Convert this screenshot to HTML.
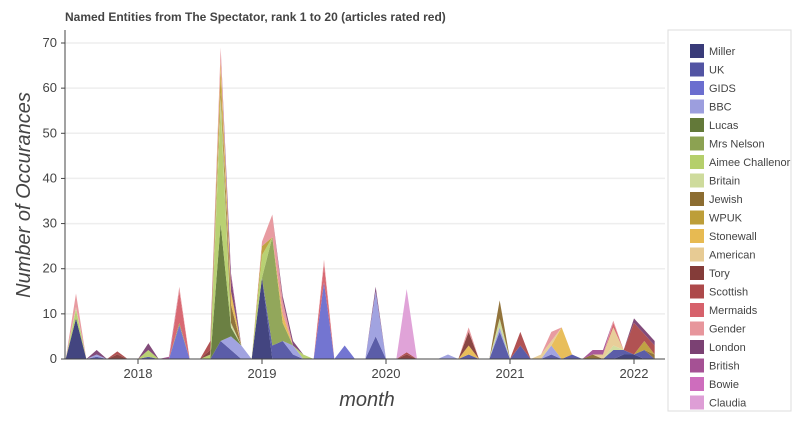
<!DOCTYPE html>
<html><head><meta charset="utf-8"><style>
body{margin:0;background:#fff;font-family:"Liberation Sans",sans-serif;}
svg text{font-family:"Liberation Sans",sans-serif;}
</style></head><body>
<svg id="c" width="797" height="418" xmlns="http://www.w3.org/2000/svg">
<text x="65" y="21" font-size="12" font-weight="bold" fill="#444">Named Entities from The Spectator, rank 1 to 20 (articles rated red)</text>
<g id="grid"></g><g id="areas"></g><g id="axes"></g>
<text transform="translate(30,195) rotate(-90)" text-anchor="middle" font-size="20" font-style="italic" fill="#444">Number of Occurances</text>
<text x="367" y="406" text-anchor="middle" font-size="20" font-style="italic" fill="#444">month</text>
<rect x="668" y="30" width="123" height="381" fill="#fff" stroke="#ddd"/>
<g id="legend"></g>
</svg>
<script>
const names=["Miller","UK","GIDS","BBC","Lucas","Mrs Nelson","Aimee Challenor","Britain","Jewish","WPUK","Stonewall","American","Tory","Scottish","Mermaids","Gender","London","British","Bowie","Claudia"];
const colors=["#393b79","#5254a3","#6b6ecf","#9c9ede","#637939","#8ca252","#b5cf6b","#cedb9c","#8c6d31","#bd9e39","#e7ba52","#e7cb94","#843c39","#ad494a","#d6616b","#e7969c","#7b4173","#a55194","#ce6dbd","#de9ed6"];
const startYear=2017, startMonth=5; // June 2017, monthly to March 2022
const Miller=[0,9,0,0,0,0,0,0,0,0, 0,0,0,0,0,0,0,0,0,18, 0,0,0,0,0,0,0,0,0,0, 0,0,0,0,0,0,0,0,0,0, 0,0,0,0,0,0,0,0,0,0, 0,0,0,0,1,1,0,0];
const UK=[0,0,0,.5,0,0,0,0,.5,0, 0,0,0,0,0,4,2,0,0,0, 3,4,1,0,0,0,0,0,0,0, 5,0,0,0,0,0,0,0,0,1, 0,0,6,0,3,0,0,1,0,1, 0,0,0,2,1,0,2,0];
const GIDS=[0,0,0,0,0,0,0,0,0,0, 0,7.5,0,0,0,0,0,0,0,0, 0,0,0,0,0,17,0,3,0,0, 0,0,0,0,0,0,0,0,0,0, 0,0,0,0,0,0,0,0,0,0, 0,0,0,0,0,0,0,0];
const BBC=[0,0,0,.5,0,0,0,0,0,0, 0,0,0,0,0,0,3,3,0,0, 0,0,2,0,0,0,0,0,0,0, 10,0,0,0,0,0,0,1,0,0, 0,0,1,0,0,0,0,2,0,0, 0,0,0,0,0,0,0,0];
const Lucas=[0,0,0,0,0,0,0,0,0,0, 0,0,0,0,0,26,2,0,0,0, 0,0,0,0,0,0,0,0,0,0, 0,0,0,0,0,0,0,0,0,0, 0,0,0,0,0,0,0,0,0,0, 0,0,0,0,0,0,0,0];
const MrsNelson=[0,0,0,0,0,0,0,0,0,0, 0,.5,0,0,0,0,0,0,0,0, 24,4,0,0,0,0,0,0,0,0, 0,0,0,0,0,0,0,0,0,0, 0,0,0,0,0,0,0,0,0,0, 0,0,0,0,0,0,0,0];
const Aimee=[0,2,0,0,0,0,0,0,1.5,0, 0,0,0,0,1,26,0,0,0,5, 0,0,0,1,0,0,0,0,0,0, 0,0,0,0,0,0,0,0,0,0, 0,0,0,0,0,0,0,0,0,0, 0,0,0,0,0,0,0,0];
const Britain=[0,.5,0,0,0,0,0,0,0,0, 0,0,0,0,0,2,1,0,0,0, 0,0,0,0,0,0,0,0,0,0, 0,0,0,0,0,0,0,0,0,0, 0,0,2,0,0,0,0,0,0,0, 0,0,0,1,0,0,0,0];
const Jewish=[0,0,0,0,0,0,0,0,0,0, 0,0,0,0,0,1,4,0,0,0, 0,0,0,0,0,0,0,0,0,0, 0,0,0,0,0,0,0,0,0,0, 0,0,4,0,0,0,0,0,0,0, 0,1,0,0,0,0,0,1];
const WPUK=[0,0,0,0,0,0,0,0,0,0, 0,0,0,0,0,5,0,0,0,2, 0,0,0,0,0,0,0,0,0,0, 0,0,0,0,0,0,0,0,0,0, 0,0,0,0,0,0,0,0,0,0, 0,0,0,0,0,0,2,0];
const Stonewall=[0,0,0,0,0,0,0,0,0,0, 0,0,0,0,0,2,3,0,0,0, 0,2,0,0,0,0,0,0,0,0, 0,0,0,0,0,0,0,0,0,2, 0,0,0,0,0,0,0,0,7,0, 0,0,0,0,0,0,0,0];
const American=[0,0,0,0,0,0,0,0,0,0, 0,0,0,0,0,0,0,0,0,0, 0,0,0,0,0,0,0,0,0,0, 0,0,0,0,0,0,0,0,0,0, 0,0,0,0,0,0,1,1,0,0, 0,0,1,4,0,0,0,0];
const Tory=[0,0,0,0,0,1,0,0,0,0, 0,0,0,0,1,0,0,0,0,0, 0,0,0,0,0,0,0,0,0,0, 0,0,0,1,0,0,0,0,0,3, 0,0,0,0,0,0,0,0,0,0, 0,0,0,0,0,0,0,0];
const Scottish=[0,0,0,0,0,.7,0,0,0,0, 0,0,0,0,2,0,0,0,0,0, 0,0,0,0,0,0,0,0,0,0, 0,0,0,.5,0,0,0,0,0,0, 0,0,0,0,3,0,0,0,0,0, 0,0,0,0,0,7,1.5,2];
const Mermaids=[0,0,0,0,0,0,0,0,0,0, 0,7,0,0,0,0,0,0,0,0, 0,0,0,0,0,4,0,0,0,0, 0,0,0,0,0,0,0,0,0,0, 0,0,0,0,0,0,0,0,0,0, 0,0,0,1,0,0,0,0];
const Gender=[0,3,0,0,0,0,0,0,0,0, 0,1,0,0,0,3,0,0,0,1, 5,3,0,0,0,1,0,0,0,0, 0,0,0,0,0,0,0,0,0,1, 0,0,0,0,0,0,0,2,0,0, 0,0,0,.5,0,0,0,0];
const London=[0,0,0,1,0,0,0,0,1.5,0, 0,0,0,0,0,0,3,0,0,0, 0,1,1,0,0,0,0,0,0,0, 1,0,0,0,0,0,0,0,0,0, 0,0,0,0,0,0,0,0,0,0, 0,0,0,0,0,1,1,1];
const British=[0,0,0,0,0,0,0,0,0,0, .5,0,0,0,0,0,1,0,0,0, 0,0,0,0,0,0,0,0,0,0, 0,0,0,0,0,0,0,0,0,0, 0,0,0,0,0,0,0,0,0,0, 0,1,1,0,0,0,0,0];
const Bowie=[0,0,0,0,0,0,0,0,0,0, 0,0,0,0,0,0,0,0,0,0, 0,0,0,0,0,0,0,0,0,0, 0,0,0,0,0,0,0,0,0,0, 0,0,0,0,0,0,0,0,0,0, 0,0,0,0,0,0,0,0];
const Claudia=[0,0,0,0,0,0,0,0,0,0, 0,0,0,0,0,0,0,0,0,0, 0,0,0,0,0,0,0,0,0,0, 0,0,0,14,0,0,0,0,0,0, 0,0,0,0,0,0,0,0,0,0, 0,0,0,0,0,0,0,0];
const series=[Miller,UK,GIDS,BBC,Lucas,MrsNelson,Aimee,Britain,Jewish,WPUK,Stonewall,American,Tory,Scottish,Mermaids,Gender,London,British,Bowie,Claudia];
const yTicks=[0,10,20,30,40,50,60,70];
const xTicks=[2018,2019,2020,2021,2022];

const NS="http://www.w3.org/2000/svg";
const L=65,R=665,B=359;
function x(monthsSince2018){return 138+monthsSince2018*(124/12);}
function xi(i){return x(startMonth+i-12*(2018-startYear));}
function y(v){return B-v*(316/70);}
function mk(t,a,p){const e=document.createElementNS(NS,t);for(const k in a)e.setAttribute(k,a[k]);p.appendChild(e);return e;}
const grid=document.getElementById('grid'),axes=document.getElementById('axes'),areas=document.getElementById('areas'),leg=document.getElementById('legend');
yTicks.forEach(v=>{
 if(v>0){const g=mk('line',{x1:L,x2:R,y1:y(v),y2:y(v),stroke:'#eee','stroke-width':1.5},grid);
 
 }
 const t=mk('text',{x:L-8,y:y(v)+4,'text-anchor':'end','font-size':13,fill:'#444'},axes);t.textContent=v;
 
 
 mk('line',{x1:L-4,x2:L,y1:y(v),y2:y(v),stroke:'#444'},axes);
});
xTicks.forEach(yr=>{
 const px=x((yr-2018)*12);
 mk('line',{x1:px,x2:px,y1:B,y2:B+5,stroke:'#444'},axes);
 const t=mk('text',{x:px,y:B+19,'text-anchor':'middle','font-size':13,fill:'#444'},axes);t.textContent=yr;
 
 
});
const n=series[0].length;let base=new Array(n).fill(0);
series.forEach((s,k)=>{
 const top=s.map((v,i)=>base[i]+v);
 let pts=[];for(let i=0;i<n;i++)pts.push(xi(i)+','+y(top[i]));
 for(let i=n-1;i>=0;i--)pts.push(xi(i)+','+y(base[i]));
 const p=mk('polygon',{points:pts.join(' '),fill:colors[k],'fill-opacity':0.95},areas);
 
 
 base=top;
});
mk('line',{x1:L,x2:L,y1:30,y2:B,stroke:'#444'},axes);
mk('line',{x1:L,x2:R,y1:B,y2:B,stroke:'#444'},axes);
names.forEach((nm,k)=>{
 const cy=51+k*18.5;
 const g=mk('g',{},leg);
 
 
 mk('rect',{x:690,y:cy-7,width:14,height:14,fill:colors[k]},g);
 const t=mk('text',{x:709,y:cy+4,'font-size':11,fill:'#444'},g);t.textContent=nm;
});
</script>
</body></html>
